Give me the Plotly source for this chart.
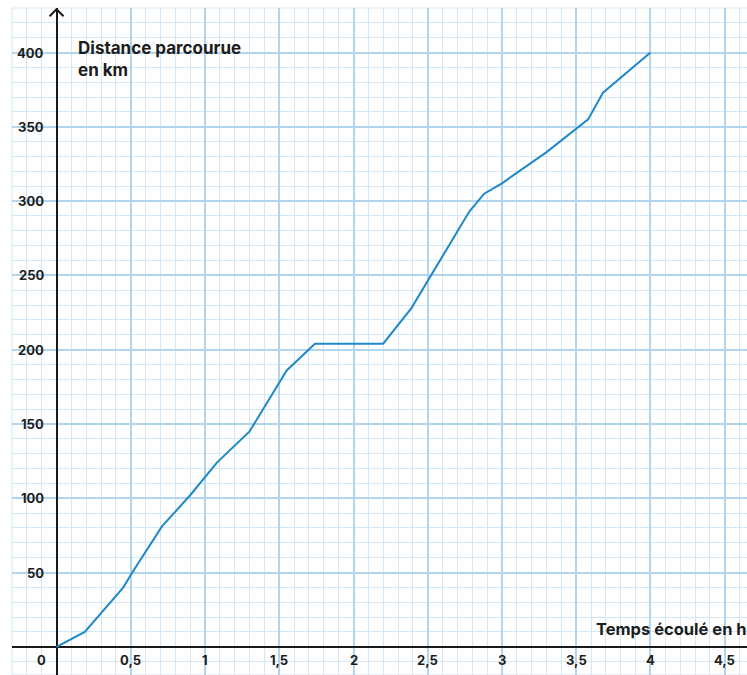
import plotly.graph_objects as go

# Data
temps_h = [0, 0.19, 0.45, 0.51, 0.71, 0.9, 1.08, 1.3, 1.55, 1.74, 2.2, 2.39,
           2.78, 2.88, 3.0, 3.3, 3.58, 3.68, 4.0]
distance_km = [0, 10, 40, 50, 81, 102, 124, 145, 186, 204, 204, 228,
               293, 305, 312, 333, 355, 373, 400]

x_tick_vals = [0.5, 1, 1.5, 2, 2.5, 3, 3.5, 4, 4.5]
x_tick_text = ["0,5", "1", "1,5", "2", "2,5", "3", "3,5", "4", "4,5"]
y_tick_vals = [50, 100, 150, 200, 250, 300, 350, 400]
y_tick_text = ["50", "100", "150", "200", "250", "300", "350", "400"]

FONT = "Inter"
TXT = "#1c1c1c"

fig = go.Figure()
fig.add_trace(go.Scatter(
    x=temps_h, y=distance_km, mode="lines",
    line=dict(color="#1f88c8", width=2),
    hoverinfo="skip", showlegend=False,
))

major = "#b2d5ef"
minor_c = "#d3e7f6"

fig.update_xaxes(
    range=[-0.3, 4.65], tick0=0, dtick=0.5,
    showgrid=True, gridcolor=major, gridwidth=2,
    minor=dict(tick0=0, dtick=0.1, showgrid=True, gridcolor=minor_c, gridwidth=1),
    zeroline=True, zerolinecolor="#1a1a1a", zerolinewidth=2,
    showticklabels=False, ticks="", showline=False, fixedrange=True,
)
fig.update_yaxes(
    range=[-19, 430], tick0=0, dtick=50,
    showgrid=True, gridcolor=major, gridwidth=2,
    minor=dict(tick0=0, dtick=10, showgrid=True, gridcolor=minor_c, gridwidth=1),
    zeroline=True, zerolinecolor="#1a1a1a", zerolinewidth=2,
    showticklabels=False, ticks="", showline=False, fixedrange=True,
)

annotations = []
for v, t in zip(x_tick_vals, x_tick_text):
    annotations.append(dict(x=v, y=0, xref="x", yref="y", text=f"<b>{t}</b>",
                            showarrow=False, xanchor="center", yanchor="middle",
                            yshift=-13, font=dict(family=FONT, size=13, color=TXT)))
for v, t in zip(y_tick_vals, y_tick_text):
    annotations.append(dict(x=0, y=v, xref="x", yref="y", text=f"<b>{t}</b>",
                            showarrow=False, xanchor="right", yanchor="middle",
                            xshift=-11, font=dict(family=FONT, size=13, color=TXT)))
annotations.append(dict(x=0, y=0, xref="x", yref="y", text="<b>0</b>",
                        showarrow=False, xanchor="center", yanchor="middle",
                        xshift=-15, yshift=-13, font=dict(family=FONT, size=13, color=TXT)))
annotations.append(dict(x=0.13, y=411, xref="x", yref="y",
                        text="<b>Distance parcourue<br>en km</b>",
                        showarrow=False, xanchor="left", yanchor="top", align="left",
                        font=dict(family=FONT, size=17, color=TXT)))
annotations.append(dict(x=3.62, y=0, xref="x", yref="y",
                        text="<b>Temps écoulé en h</b>",
                        showarrow=False, xanchor="left", yanchor="bottom", align="left",
                        yshift=6, font=dict(family=FONT, size=16.5, color=TXT)))

shapes = [
    dict(type="rect", xref="paper", yref="paper", x0=0, y0=0, x1=1.2, y1=1,
         line=dict(color=minor_c, width=1), layer="below"),
    dict(type="path", xref="x", yref="y",
         path="M -0.047 424.5 L 0 429.2 L 0.047 424.5",
         line=dict(color="#1a1a1a", width=2)),
]

fig.update_layout(
    width=747, height=675,
    margin=dict(l=12, r=0, t=8, b=0),
    plot_bgcolor="white", paper_bgcolor="white",
    annotations=annotations, shapes=shapes,
    showlegend=False,
)

fig.write_html("out.html", config={"displayModeBar": False},
               post_script="document.body.style.margin='0';")
